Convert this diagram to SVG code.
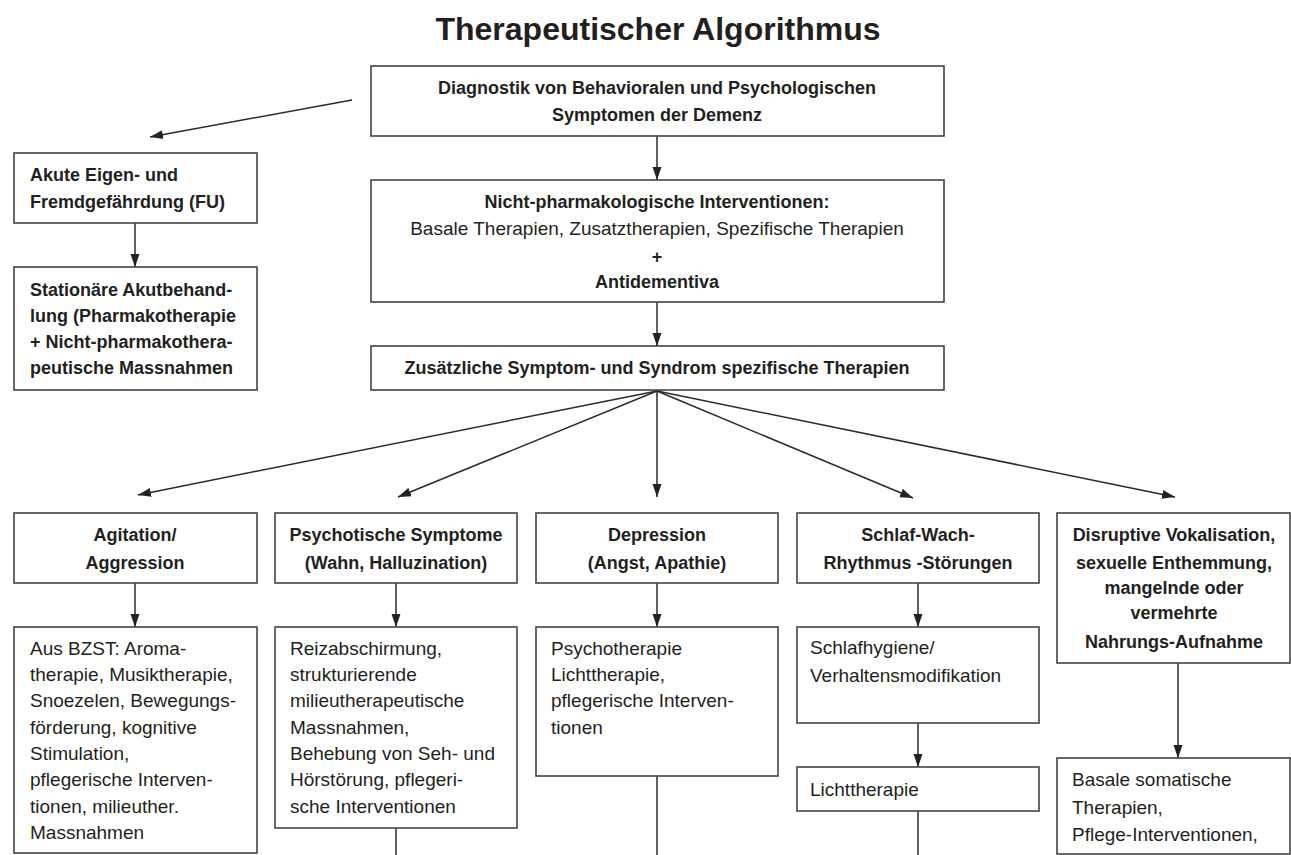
<svg xmlns="http://www.w3.org/2000/svg" width="1291" height="855" viewBox="0 0 1291 855">
<defs>
<marker id="ah" markerUnits="userSpaceOnUse" markerWidth="13" markerHeight="10" refX="13" refY="5" orient="auto">
<path d="M0,0.5 L13,5 L0,9.5 z" fill="#222"/>
</marker>
<style>
.box{fill:#fff;stroke:#444;stroke-width:1.6}
.b{font-family:"Liberation Sans",Arial,sans-serif;font-weight:bold;font-size:18px;fill:#231f20}
.r{font-family:"Liberation Sans",Arial,sans-serif;font-size:19px;fill:#231f20}
.c{text-anchor:middle}
.ln{stroke:#2a2a2a;stroke-width:1.5;fill:none}
.arr{stroke:#2a2a2a;stroke-width:1.5;fill:none;marker-end:url(#ah)}
</style>
</defs>
<rect width="1291" height="855" fill="#fff"/>
<text x="658" y="40" text-anchor="middle" style="font-family:'Liberation Sans',Arial,sans-serif;font-weight:bold;font-size:32px;fill:#231f20">Therapeutischer Algorithmus</text>

<g id="connectors">
<line class="arr" x1="352" y1="100" x2="150" y2="137"/>
<line class="arr" x1="657" y1="136" x2="657" y2="180"/>
<line class="arr" x1="657" y1="302" x2="657" y2="346"/>
<line class="arr" x1="135" y1="223" x2="135" y2="267"/>
<line class="arr" x1="657" y1="391" x2="138" y2="495"/>
<line class="arr" x1="657" y1="391" x2="398" y2="497"/>
<line class="arr" x1="657" y1="391" x2="657" y2="497"/>
<line class="arr" x1="657" y1="391" x2="913" y2="498"/>
<line class="arr" x1="657" y1="391" x2="1175" y2="497"/>
<line class="arr" x1="135" y1="583" x2="135" y2="627"/>
<line class="arr" x1="396" y1="583" x2="396" y2="627"/>
<line class="arr" x1="657" y1="583" x2="657" y2="627"/>
<line class="arr" x1="918" y1="583" x2="918" y2="627"/>
<line class="arr" x1="918" y1="723" x2="918" y2="767"/>
<line class="arr" x1="1178" y1="663" x2="1178" y2="758"/>
<line class="ln" x1="396" y1="828" x2="396" y2="856"/>
<line class="ln" x1="657" y1="776" x2="657" y2="856"/>
<line class="ln" x1="918" y1="811" x2="918" y2="856"/>
</g>

<g id="n-diagnostik">
<rect class="box" x="371" y="66" width="573" height="70"/>
<text class="b c" x="657" y="94">Diagnostik von Behavioralen und Psychologischen</text>
<text class="b c" x="657" y="121">Symptomen der Demenz</text>
</g>

<g id="n-nichtpharm">
<rect class="box" x="371" y="180" width="573" height="122"/>
<text class="b c" x="657" y="208">Nicht-pharmakologische Interventionen:</text>
<text class="r c" x="657" y="235">Basale Therapien, Zusatztherapien, Spezifische Therapien</text>
<text class="b c" x="657" y="263">+</text>
<text class="b c" x="657" y="288">Antidementiva</text>
</g>

<g id="n-zusaetzlich">
<rect class="box" x="371" y="346" width="573" height="44"/>
<text class="b c" x="657" y="374">Zusätzliche Symptom- und Syndrom spezifische Therapien</text>
</g>

<g id="n-akute">
<rect class="box" x="14" y="153" width="243" height="70"/>
<text class="b" x="30" y="181">Akute Eigen- und</text>
<text class="b" x="30" y="208">Fremdgefährdung (FU)</text>
</g>

<g id="n-stationaer">
<rect class="box" x="14" y="267" width="243" height="123"/>
<text class="b" x="30" y="296">Stationäre Akutbehand-</text>
<text class="b" x="30" y="322">lung (Pharmakotherapie</text>
<text class="b" x="30" y="348">+ Nicht-pharmakothera-</text>
<text class="b" x="30" y="374">peutische Massnahmen</text>
</g>

<g id="n-agitation">
<rect class="box" x="14" y="513" width="243" height="70"/>
<text class="b c" x="135" y="541">Agitation/</text>
<text class="b c" x="135" y="569">Aggression</text>
</g>

<g id="n-psychotisch">
<rect class="box" x="275" y="513" width="242" height="70"/>
<text class="b c" x="396" y="541">Psychotische Symptome</text>
<text class="b c" x="396" y="569">(Wahn, Halluzination)</text>
</g>

<g id="n-depression">
<rect class="box" x="536" y="513" width="242" height="70"/>
<text class="b c" x="657" y="541">Depression</text>
<text class="b c" x="657" y="569">(Angst, Apathie)</text>
</g>

<g id="n-schlaf">
<rect class="box" x="797" y="513" width="242" height="70"/>
<text class="b c" x="918" y="541">Schlaf-Wach-</text>
<text class="b c" x="918" y="569">Rhythmus -Störungen</text>
</g>

<g id="n-disruptiv">
<rect class="box" x="1057" y="513" width="233" height="150"/>
<text class="b c" x="1174" y="541">Disruptive Vokalisation,</text>
<text class="b c" x="1174" y="569">sexuelle Enthemmung,</text>
<text class="b c" x="1174" y="594">mangelnde oder</text>
<text class="b c" x="1174" y="619">vermehrte</text>
<text class="b c" x="1174" y="648">Nahrungs-Aufnahme</text>
</g>

<g id="n-aus-bzst">
<rect class="box" x="14" y="627" width="243" height="226"/>
<text class="r" x="30" y="655">Aus BZST: Aroma-</text>
<text class="r" x="30" y="681">therapie, Musiktherapie,</text>
<text class="r" x="30" y="707">Snoezelen, Bewegungs-</text>
<text class="r" x="30" y="734">förderung, kognitive</text>
<text class="r" x="30" y="760">Stimulation,</text>
<text class="r" x="30" y="786">pflegerische Interven-</text>
<text class="r" x="30" y="813">tionen, milieuther.</text>
<text class="r" x="30" y="839">Massnahmen</text>
</g>

<g id="n-reizabschirmung">
<rect class="box" x="275" y="627" width="242" height="201"/>
<text class="r" x="290" y="655">Reizabschirmung,</text>
<text class="r" x="290" y="681">strukturierende</text>
<text class="r" x="290" y="707">milieutherapeutische</text>
<text class="r" x="290" y="734">Massnahmen,</text>
<text class="r" x="290" y="760">Behebung von Seh- und</text>
<text class="r" x="290" y="786">Hörstörung, pflegeri-</text>
<text class="r" x="290" y="813">sche Interventionen</text>
</g>

<g id="n-psychotherapie">
<rect class="box" x="536" y="627" width="242" height="149"/>
<text class="r" x="551" y="655">Psychotherapie</text>
<text class="r" x="551" y="681">Lichttherapie,</text>
<text class="r" x="551" y="707">pflegerische Interven-</text>
<text class="r" x="551" y="734">tionen</text>
</g>

<g id="n-schlafhygiene">
<rect class="box" x="797" y="627" width="242" height="96"/>
<text class="r" x="810" y="654">Schlafhygiene/</text>
<text class="r" x="810" y="682">Verhaltensmodifikation</text>
</g>

<g id="n-lichttherapie">
<rect class="box" x="797" y="767" width="242" height="44"/>
<text class="r" x="810" y="796">Lichttherapie</text>
</g>

<g id="n-basale">
<rect class="box" x="1057" y="758" width="233" height="96"/>
<text class="r" x="1072" y="786">Basale somatische</text>
<text class="r" x="1072" y="814">Therapien,</text>
<text class="r" x="1072" y="841">Pflege-Interventionen,</text>
</g>
</svg>
